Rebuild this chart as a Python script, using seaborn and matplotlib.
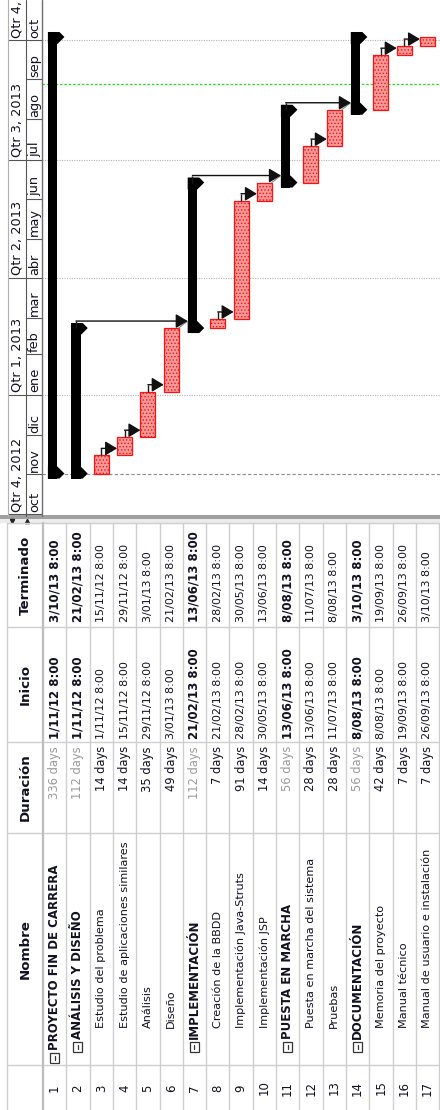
import matplotlib
matplotlib.use("Agg")
import numpy as np
import pandas as pd
import matplotlib.pyplot as plt
import matplotlib.dates as mdates
from matplotlib.patches import Rectangle, Polygon, FancyArrowPatch
import seaborn as sns
from datetime import datetime

# ---------------- data ----------------
ids = list(range(1, 18))
names = ["PROYECTO FIN DE CARRERA", "ANÁLISIS Y DISEÑO", "Estudio del problema",
         "Estudio de aplicaciones similares", "Análisis", "Diseño", "IMPLEMENTACIÓN",
         "Creación de la BBDD", "Implementación Java-Struts", "Implementación JSP",
         "PUESTA EN MARCHA", "Puesta en marcha del sistema", "Pruebas", "DOCUMENTACIÓN",
         "Memoria del proyecto", "Manual técnico", "Manual de usuario e instalación"]
levels = [1, 2, 3, 3, 3, 3, 2, 3, 3, 3, 2, 3, 3, 2, 3, 3, 3]
durations = ["336 days", "112 days", "14 days", "14 days", "35 days", "49 days", "112 days",
             "7 days", "91 days", "14 days", "56 days", "28 days", "28 days", "56 days",
             "42 days", "7 days", "7 days"]
starts = ["1/11/12 8:00", "1/11/12 8:00", "1/11/12 8:00", "15/11/12 8:00", "29/11/12 8:00",
          "3/01/13 8:00", "21/02/13 8:00", "21/02/13 8:00", "28/02/13 8:00", "30/05/13 8:00",
          "13/06/13 8:00", "13/06/13 8:00", "11/07/13 8:00", "8/08/13 8:00", "8/08/13 8:00",
          "19/09/13 8:00", "26/09/13 8:00"]
ends = ["3/10/13 8:00", "21/02/13 8:00", "15/11/12 8:00", "29/11/12 8:00", "3/01/13 8:00",
        "21/02/13 8:00", "13/06/13 8:00", "28/02/13 8:00", "30/05/13 8:00", "13/06/13 8:00",
        "8/08/13 8:00", "11/07/13 8:00", "8/08/13 8:00", "3/10/13 8:00", "19/09/13 8:00",
        "26/09/13 8:00", "3/10/13 8:00"]
links = [(3, 4), (4, 5), (5, 6), (2, 7), (8, 9), (9, 10), (7, 11), (12, 13), (11, 14),
         (15, 16), (16, 17)]
gray_links = [(6, 7), (10, 11), (13, 14)]
quarter_labels = ["Qtr 4, 2012", "Qtr 1, 2013", "Qtr 2, 2013", "Qtr 3, 2013", "Qtr 4, 2013"]
quarter_starts = ["2012-10-01", "2013-01-01", "2013-04-01", "2013-07-01", "2013-10-01"]
month_labels = ["oct", "nov", "dic", "ene", "feb", "mar", "abr", "may", "jun", "jul",
                "ago", "sep", "oct"]
month_starts = ["2012-10-01", "2012-11-01", "2012-12-01", "2013-01-01", "2013-02-01",
                "2013-03-01", "2013-04-01", "2013-05-01", "2013-06-01", "2013-07-01",
                "2013-08-01", "2013-09-01", "2013-10-01"]
status_date = "2013-08-28"
col_headers = ["Terminado", "Inicio", "Duración", "Nombre", ""]

# ---------------- style ----------------
sns.set_style("white")
plt.rcParams['font.family'] = ['DejaVu Sans']
plt.rcParams['hatch.linewidth'] = 0.6
TXT = "#111122"

W, H = 440, 1110
fig = plt.figure(figsize=(W / 100, H / 100), dpi=100)
fig.patch.set_facecolor("white")


def fax(x0, y0, x1, y1, **kw):
    return fig.add_axes([x0 / W, 1 - y1 / H, (x1 - x0) / W, (y1 - y0) / H], **kw)


def pdate(s):
    return mdates.date2num(datetime.strptime(s, "%d/%m/%y %H:%M"))


s_num = np.array([pdate(v) for v in starts])
e_num = np.array([pdate(v) for v in ends])
x = np.array(ids, dtype=float)
lv = np.array(levels)
summ = lv < 3

ROW0, ROW_PX = 43.0, 23.3
PX_PER_DAY = 1.2994
base = mdates.date2num(datetime(2012, 10, 1))
Y0_PX = 514.3
top_px, bot_px = 2, 516
dx = 1 / ROW_PX
dy = 1 / PX_PER_DAY
ylim = (base + (Y0_PX - bot_px) / PX_PER_DAY, base + (Y0_PX - top_px) / PX_PER_DAY)

# ---------------- gantt ----------------
gax = fax(42, top_px, 440, bot_px)
gax.set_xlim((42 - ROW0) / ROW_PX + 0.5, (440 - ROW0) / ROW_PX + 0.5)
gax.set_ylim(*ylim)
gax.axis("off")

for q in quarter_starts[1:]:
    gax.axhline(mdates.datestr2num(q), color="#b4b4b4", lw=0.8, ls=(0, (1, 1.2)), zorder=1)
gax.axhline(s_num[0], color="#8c8c8c", lw=0.8, ls=(0, (3, 2)), zorder=1)
gax.axhline(mdates.datestr2num(status_date), color="#22dd22", lw=0.9, ls=(0, (2, 1.5)), zorder=1)

RED_W = 0.64
SUM_OFF, SUM_W = -0.085, 0.41
gax.bar(x[~summ], (e_num - s_num)[~summ], bottom=s_num[~summ], width=RED_W,
        color="#f59a9a", edgecolor="#ff1010", hatch=".....", linewidth=0.9, zorder=3)
gax.bar(x[summ] + SUM_OFF, (e_num - s_num)[summ] + 10 * dy, bottom=s_num[summ] - 5 * dy,
        width=SUM_W, color="black", linewidth=0, zorder=4)
for i in np.where(summ)[0]:
    L = x[i] + SUM_OFF - SUM_W / 2
    R = x[i] + SUM_OFF + SUM_W / 2
    s, e = s_num[i], e_num[i]
    gax.add_patch(Polygon([(L, s - 5 * dy), (R + 2 * dx, s - 5 * dy), (R + 7 * dx, s),
                           (R, s + 7 * dy), (L, s + 7 * dy)], closed=True,
                          color="black", lw=0, zorder=4))
    gax.add_patch(Polygon([(L, e + 5 * dy), (R + 2 * dx, e + 5 * dy), (R + 7 * dx, e),
                           (R, e - 7 * dy), (L, e - 7 * dy)], closed=True,
                          color="black", lw=0, zorder=4))


def left_edge(i):
    return x[i] + SUM_OFF - SUM_W / 2 if summ[i] else x[i] - RED_W / 2


def right_edge(i):
    return x[i] + SUM_OFF + SUM_W / 2 if summ[i] else x[i] + RED_W / 2


for a, b in links:
    ia, ib = a - 1, b - 1
    xa = x[ia] + (SUM_OFF if summ[ia] else 0)
    yl = e_num[ia] + 7 * dy
    gax.plot([xa, xa], [e_num[ia], yl], color="#1a1a1a", lw=1.0, zorder=5,
             solid_capstyle="butt")
    gax.add_patch(FancyArrowPatch((xa, yl), (left_edge(ib), yl),
                                  arrowstyle="-|>,head_length=0.6,head_width=0.36",
                                  mutation_scale=12, color="#111111", lw=1.0,
                                  shrinkA=0, shrinkB=0, zorder=6))
for a, b in gray_links:
    ia, ib = a - 1, b - 1
    gax.plot([right_edge(ia), left_edge(ib)], [e_num[ia], e_num[ia] + 7 * dy],
             color="#8a8a8a", lw=0.8, zorder=5)

# ---------------- timescale header ----------------
hax = fax(8, top_px, 42, bot_px)
hax.set_xlim(0, 34)
hax.set_ylim(*ylim)
hax.axis("off")
for lab, q in zip(quarter_labels, quarter_starts):
    qn = mdates.datestr2num(q)
    hax.plot([0, 18], [qn, qn], color="#555555", lw=0.8, clip_on=True)
    hax.text(9.5, qn + 2.5 * dy, lab, rotation=90, rotation_mode="anchor", ha="left",
             va="center", fontsize=9.3, color=TXT, clip_on=True)
for lab, m in zip(month_labels, month_starts):
    mn = mdates.datestr2num(m)
    hax.plot([18, 34], [mn, mn], color="#555555", lw=0.8, clip_on=True)
    hax.text(26.5, mn + 2.5 * dy, lab, rotation=90, rotation_mode="anchor", ha="left",
             va="center", fontsize=9.3, color=TXT, clip_on=True)

# ---------------- overlay (pixel coords) : borders + table ----------------
oax = fax(0, 0, W, H)
oax.set_xlim(0, W)
oax.set_ylim(H, 0)
oax.axis("off")
oax.patch.set_alpha(0)

# timescale borders
oax.plot([8, 8], [0, 516], color="#b0b0b0", lw=0.8)
oax.plot([26, 26], [0, 516], color="#555555", lw=0.8)
oax.plot([42, 42], [0, 516], color="#707070", lw=1.0)
# split bar
oax.add_patch(Rectangle((0, 515), W, 4, color="#a0a0a0", lw=0))
oax.add_patch(Rectangle((0, 519), W, 4, color="#ececec", lw=0))
oax.plot([12], [520.5], marker="v", ms=3, color="#222222")
oax.plot([27], [520.5], marker="^", ms=3, color="#222222")

col_bounds = [523, 627, 742, 833, 1065, 1110]
grid_c = "#cfcfcf"
for yb in col_bounds[:-1]:
    oax.plot([7, W], [yb, yb], color=grid_c, lw=1.0)
oax.plot([7, 7], [523, H], color=grid_c, lw=1.0)
for k in range(18):
    xb = ROW0 + ROW_PX * k
    oax.plot([xb, xb], [523, H], color=grid_c if k else "#bdbdbd", lw=1.0 if k else 1.6)

for lab, y0, y1 in zip(col_headers, col_bounds[:-1], col_bounds[1:]):
    oax.text(25, (y0 + y1) / 2, lab, rotation=90, rotation_mode="anchor", ha="center",
             va="center", fontsize=9.6, fontweight="bold", color=TXT)

for i in range(17):
    cx = ROW0 + ROW_PX * (i + 0.5)
    bold = summ[i]
    fw = "bold" if bold else "normal"
    fsd = 8.5 if bold else 8
    oax.text(cx, 622, ends[i], rotation=90, rotation_mode="anchor", ha="left",
             va="center", fontsize=fsd, fontweight=fw, color=TXT)
    oax.text(cx, 739, starts[i], rotation=90, rotation_mode="anchor", ha="left",
             va="center", fontsize=fsd, fontweight=fw, color=TXT)
    oax.text(cx, 746, durations[i], rotation=90, rotation_mode="anchor", ha="right",
             va="center", fontsize=8.3, color="#9a9a9a" if bold else TXT)
    oax.text(cx, 1088, str(ids[i]), rotation=90, rotation_mode="anchor", ha="center",
             va="center", fontsize=8.5, color=TXT)
    if levels[i] == 1:
        by, ty = 1053, 1050
    elif levels[i] == 2:
        by, ty = 1042, 1039
    else:
        by, ty = None, 1028
    if by is not None:
        oax.add_patch(Rectangle((cx - 4.5, by), 9, 9.5, fill=False, ec="#333333", lw=0.9))
        oax.plot([cx, cx], [by + 2.5, by + 7.0], color="#333333", lw=0.9)
    oax.text(cx, ty, names[i], rotation=90, rotation_mode="anchor", ha="left",
             va="center", fontsize=8.5 if bold else 8.1, fontweight=fw, color=TXT)

fig.savefig("out.png", dpi=100, facecolor="white")
